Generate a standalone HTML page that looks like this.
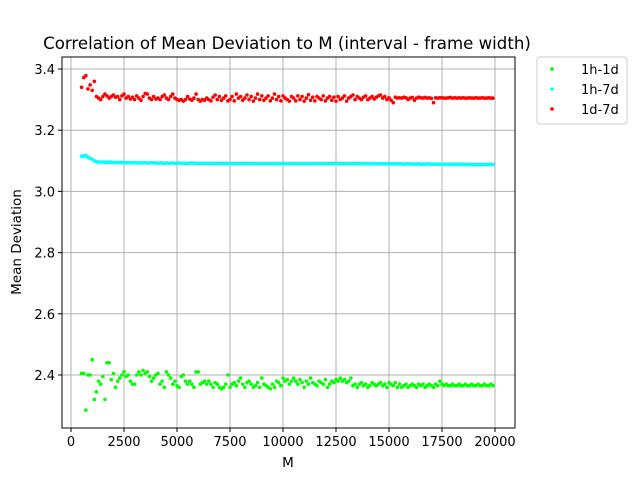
<!DOCTYPE html>
<html><head><meta charset="utf-8"><style>
body{margin:0;background:#fff;}
svg text{font-family:"DejaVu Sans","Liberation Sans",sans-serif;}
</style></head><body>
<svg id="chart" width="640" height="480" xmlns="http://www.w3.org/2000/svg">
<rect width="640" height="480" fill="#fff"/>
<g id="grid"></g>
<g id="marks"></g>
<rect x="62" y="57" width="453" height="371" fill="none" stroke="#000" stroke-width="1"/>
<g id="ticks"></g>
<text x="287" y="49" font-size="16.6" text-anchor="middle">Correlation of Mean Deviation to M (interval - frame width)</text>
<text x="288" y="467" font-size="13.5" text-anchor="middle">M</text>
<text transform="translate(21,242) rotate(-90)" font-size="13.5" text-anchor="middle">Mean Deviation</text>
<g>
<rect x="537" y="57" width="90" height="67" rx="3" fill="#fff" stroke="#ccc"/>
<g id="legend-items"></g>
</g>
</svg>
<script>
const mStart = 500, mStep = 100;
const red = [3.34,3.372,3.378,3.335,3.348,3.33,3.36,3.31,3.305,3.30,
3.31,3.318,3.312,3.305,3.31,3.315,3.308,3.31,3.30,3.312,
3.318,3.305,3.31,3.302,3.308,3.30,3.312,3.305,3.298,3.31,
3.32,3.318,3.305,3.30,3.31,3.302,3.305,3.30,3.31,3.315,
3.305,3.30,3.31,3.318,3.305,3.30,3.298,3.30,3.295,3.30,
3.31,3.302,3.298,3.305,3.318,3.30,3.295,3.30,3.298,3.305,
3.30,3.296,3.308,3.315,3.30,3.31,3.298,3.305,3.312,3.296,
3.30,3.31,3.296,3.318,3.305,3.31,3.298,3.305,3.315,3.30,
3.31,3.295,3.305,3.318,3.30,3.312,3.298,3.305,3.312,3.296,
3.305,3.318,3.30,3.31,3.296,3.312,3.305,3.30,3.295,3.31,
3.305,3.296,3.312,3.30,3.31,3.295,3.305,3.316,3.298,3.308,
3.296,3.31,3.305,3.30,3.312,3.296,3.305,3.31,3.298,3.308,
3.295,3.31,3.30,3.305,3.312,3.295,3.305,3.31,3.315,3.30,
3.31,3.305,3.30,3.308,3.312,3.30,3.305,3.31,3.302,3.308,
3.312,3.315,3.305,3.31,3.30,3.306,3.298,3.29,3.308,3.305,
3.306,3.305,3.308,3.306,3.30,3.305,3.307,3.298,3.305,3.308,
3.306,3.305,3.307,3.305,3.306,3.304,3.29,3.306,3.305,3.306,
3.306,3.305,3.305,3.306,3.307,3.305,3.306,3.305,3.306,3.305,
3.306,3.305,3.305,3.306,3.305,3.305,3.306,3.305,3.305,3.306,
3.305,3.305,3.306,3.305,3.305];
const cyan = [3.115,3.115,3.118,3.112,3.108,3.105,3.1,3.097,3.096,3.096,
3.096,3.095,3.095,3.096,3.095,3.094,3.095,3.094,3.095,3.094,
3.094,3.093,3.094,3.094,3.093,3.094,3.093,3.094,3.093,3.093,
3.094,3.093,3.093,3.094,3.093,3.093,3.092,3.093,3.093,3.092,
3.093,3.092,3.092,3.093,3.092,3.092,3.093,3.092,3.092,3.092,
3.092,3.092,3.093,3.092,3.092,3.092,3.091,3.092,3.092,3.092,
3.092,3.091,3.092,3.092,3.091,3.092,3.091,3.091,3.092,3.091,
3.091,3.092,3.091,3.091,3.091,3.092,3.091,3.091,3.091,3.091,
3.091,3.091,3.091,3.091,3.091,3.091,3.091,3.091,3.091,3.091,
3.091,3.091,3.091,3.091,3.091,3.091,3.091,3.091,3.091,3.091,
3.091,3.091,3.091,3.091,3.091,3.091,3.091,3.091,3.091,3.091,
3.091,3.091,3.091,3.091,3.091,3.091,3.091,3.091,3.091,3.091,
3.091,3.091,3.091,3.091,3.091,3.091,3.091,3.091,3.091,3.091,
3.091,3.091,3.091,3.091,3.09,3.091,3.09,3.09,3.091,3.09,
3.09,3.09,3.09,3.09,3.09,3.09,3.09,3.09,3.09,3.09,
3.09,3.09,3.089,3.09,3.09,3.089,3.09,3.089,3.089,3.09,
3.089,3.089,3.089,3.09,3.089,3.089,3.089,3.089,3.089,3.089,
3.089,3.089,3.089,3.089,3.089,3.089,3.089,3.089,3.089,3.089,
3.088,3.089,3.088,3.088,3.088,3.088,3.088,3.088,3.088,3.088,
3.088,3.088,3.088,3.088,3.088];
const green = [2.405,2.405,2.285,2.40,2.40,2.45,2.32,2.345,2.38,2.37,
2.395,2.32,2.44,2.44,2.385,2.405,2.36,2.38,2.39,2.40,
2.41,2.395,2.40,2.38,2.37,2.37,2.40,2.41,2.40,2.415,
2.405,2.41,2.395,2.38,2.39,2.40,2.405,2.37,2.38,2.36,
2.41,2.40,2.39,2.37,2.38,2.365,2.36,2.395,2.40,2.38,
2.37,2.38,2.37,2.36,2.41,2.41,2.37,2.375,2.38,2.37,
2.38,2.37,2.36,2.375,2.37,2.36,2.355,2.36,2.37,2.40,
2.36,2.37,2.375,2.365,2.38,2.39,2.37,2.36,2.375,2.38,
2.37,2.36,2.365,2.375,2.36,2.39,2.37,2.365,2.36,2.355,
2.37,2.36,2.38,2.375,2.365,2.39,2.38,2.385,2.37,2.38,
2.39,2.38,2.37,2.385,2.375,2.36,2.38,2.37,2.39,2.375,
2.37,2.365,2.38,2.375,2.37,2.385,2.36,2.37,2.38,2.375,
2.385,2.38,2.39,2.38,2.385,2.375,2.38,2.39,2.365,2.37,
2.36,2.37,2.375,2.365,2.37,2.36,2.365,2.375,2.37,2.365,
2.37,2.375,2.365,2.37,2.36,2.375,2.37,2.365,2.375,2.36,
2.37,2.36,2.365,2.37,2.36,2.365,2.37,2.365,2.36,2.37,
2.365,2.37,2.36,2.365,2.37,2.365,2.36,2.37,2.365,2.38,
2.37,2.365,2.37,2.365,2.365,2.37,2.365,2.365,2.37,2.365,
2.365,2.37,2.365,2.365,2.37,2.365,2.365,2.37,2.365,2.365,
2.37,2.365,2.365,2.37,2.365];
const xTicks = [0,2500,5000,7500,10000,12500,15000,17500,20000];
const yTicks = [2.4,2.6,2.8,3.0,3.2,3.4];
const seriesNames = ["1h-1d","1h-7d","1d-7d"];
const seriesColors = ["#00ff00","#00ffff","#ff0000"];

const NS="http://www.w3.org/2000/svg";
const xs = m => 71 + m*0.0212;
const ys = v => 69 + (3.4 - v)*306;
function mk(tag, attrs, parent){const e=document.createElementNS(NS,tag);for(const k in attrs)e.setAttribute(k,attrs[k]);parent.appendChild(e);return e;}
const grid=document.getElementById('grid'), ticks=document.getElementById('ticks'), marks=document.getElementById('marks');
xTicks.forEach(t=>{const x=xs(t);
 let g=mk('line',{x1:x,x2:x,y1:57,y2:428,stroke:'#b0b0b0','stroke-width':1},grid);
 
 
 let l=mk('line',{x1:x,x2:x,y1:428,y2:432,stroke:'#000'},ticks);
 
 
 let tx=mk('text',{x:x,y:446,'font-size':13,'text-anchor':'middle'},ticks);tx.textContent=t;
 
 
});
yTicks.forEach(t=>{const y=ys(t);
 let g=mk('line',{x1:62,x2:515,y1:y,y2:y,stroke:'#b0b0b0','stroke-width':1},grid);
 
 
 let l=mk('line',{x1:58,x2:62,y1:y,y2:y,stroke:'#000'},ticks);
 
 
 let tx=mk('text',{x:55,y:y+5,'font-size':13,'text-anchor':'end'},ticks);tx.textContent=t.toFixed(1);
 
 
});
[green,cyan,red].forEach((arr,si)=>{
 const g=mk('g',{},marks);
 
 
 arr.forEach((v,i)=>{const c=mk('circle',{cx:xs(mStart+i*mStep),cy:ys(v),r:1.8,fill:seriesColors[si]},g);
  
  });
});
const li=document.getElementById('legend-items');
seriesNames.forEach((n,i)=>{const y=69+i*20;
 const c=mk('circle',{cx:552,cy:y,r:1.8,fill:seriesColors[i]},li);
 
 
 const t=mk('text',{x:581,y:y+5,'font-size':13},li);t.textContent=n;
 
 
});
</script>
</body></html>
